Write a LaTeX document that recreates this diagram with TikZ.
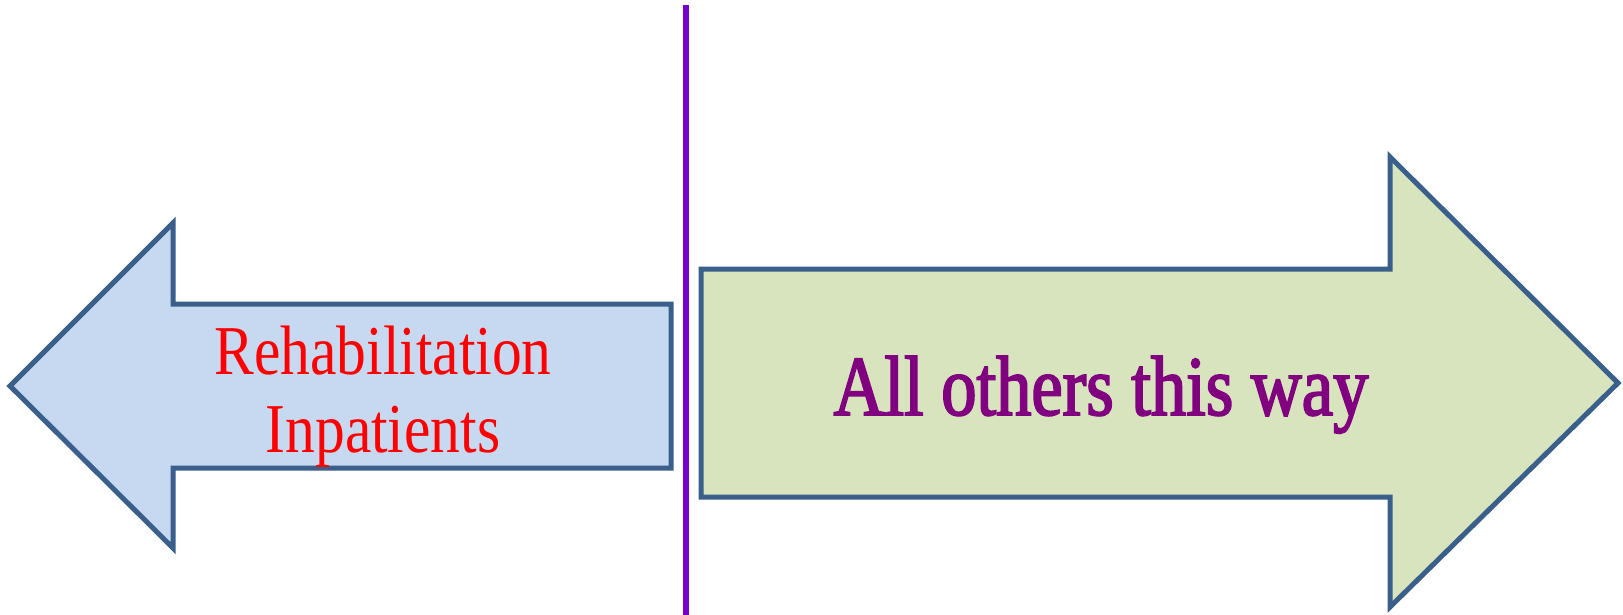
\documentclass[tikz,border=0pt]{standalone}
\usepackage{fontspec}
\setmainfont{Liberation Serif}
\newfontfamily\rehfont[FakeStretch=0.85]{Liberation Serif}
\newfontfamily\othersfont[FakeStretch=0.83, FakeBold=2.2]{Liberation Serif}
\definecolor{edgeblue}{HTML}{3A5F8B}
\definecolor{leftfill}{HTML}{C6D9F1}
\definecolor{rightfill}{HTML}{D8E4BE}
\definecolor{divider}{HTML}{7600CC}
\definecolor{othersink}{HTML}{800080}
\tikzset{
  arrowshape/.style={draw=edgeblue, line width=2.5pt},
  dividerline/.style={draw=divider, line width=3pt},
}
\begin{document}
\begin{tikzpicture}[x=0.5pt, y=-0.5pt]
  \useasboundingbox[fill=white] (0,0) rectangle (1623,615);

  % left block arrow
  \draw[arrowshape, fill=leftfill]
    (10,386) -- (173,223) -- (173,304) -- (671,304) -- (671,468)
    -- (173,468) -- (173,548) -- cycle;
  % right block arrow
  \draw[arrowshape, fill=rightfill]
    (701,269) -- (1390,269) -- (1390,157) -- (1618,383) -- (1390,607)
    -- (1390,497) -- (701,497) -- cycle;

  % divider
  \coordinate (top) at (686,5);
  \coordinate (bottom) at (686,615);
  \draw[dividerline] (top) -- (bottom);

  % labels (base anchor sits on the last line's baseline)
  \node[anchor=base, text=red, align=center, inner sep=0pt,
        font={\rehfont\fontsize{35pt}{39pt}\selectfont}]
    (rehab) at (383,452) {Rehabilitation\\Inpatients};
  \node[anchor=base, text=othersink, inner sep=0pt,
        font={\othersfont\fontsize{42.5pt}{50pt}\selectfont}]
    (others) at (1101,415) {All others this way};
\end{tikzpicture}
\end{document}
